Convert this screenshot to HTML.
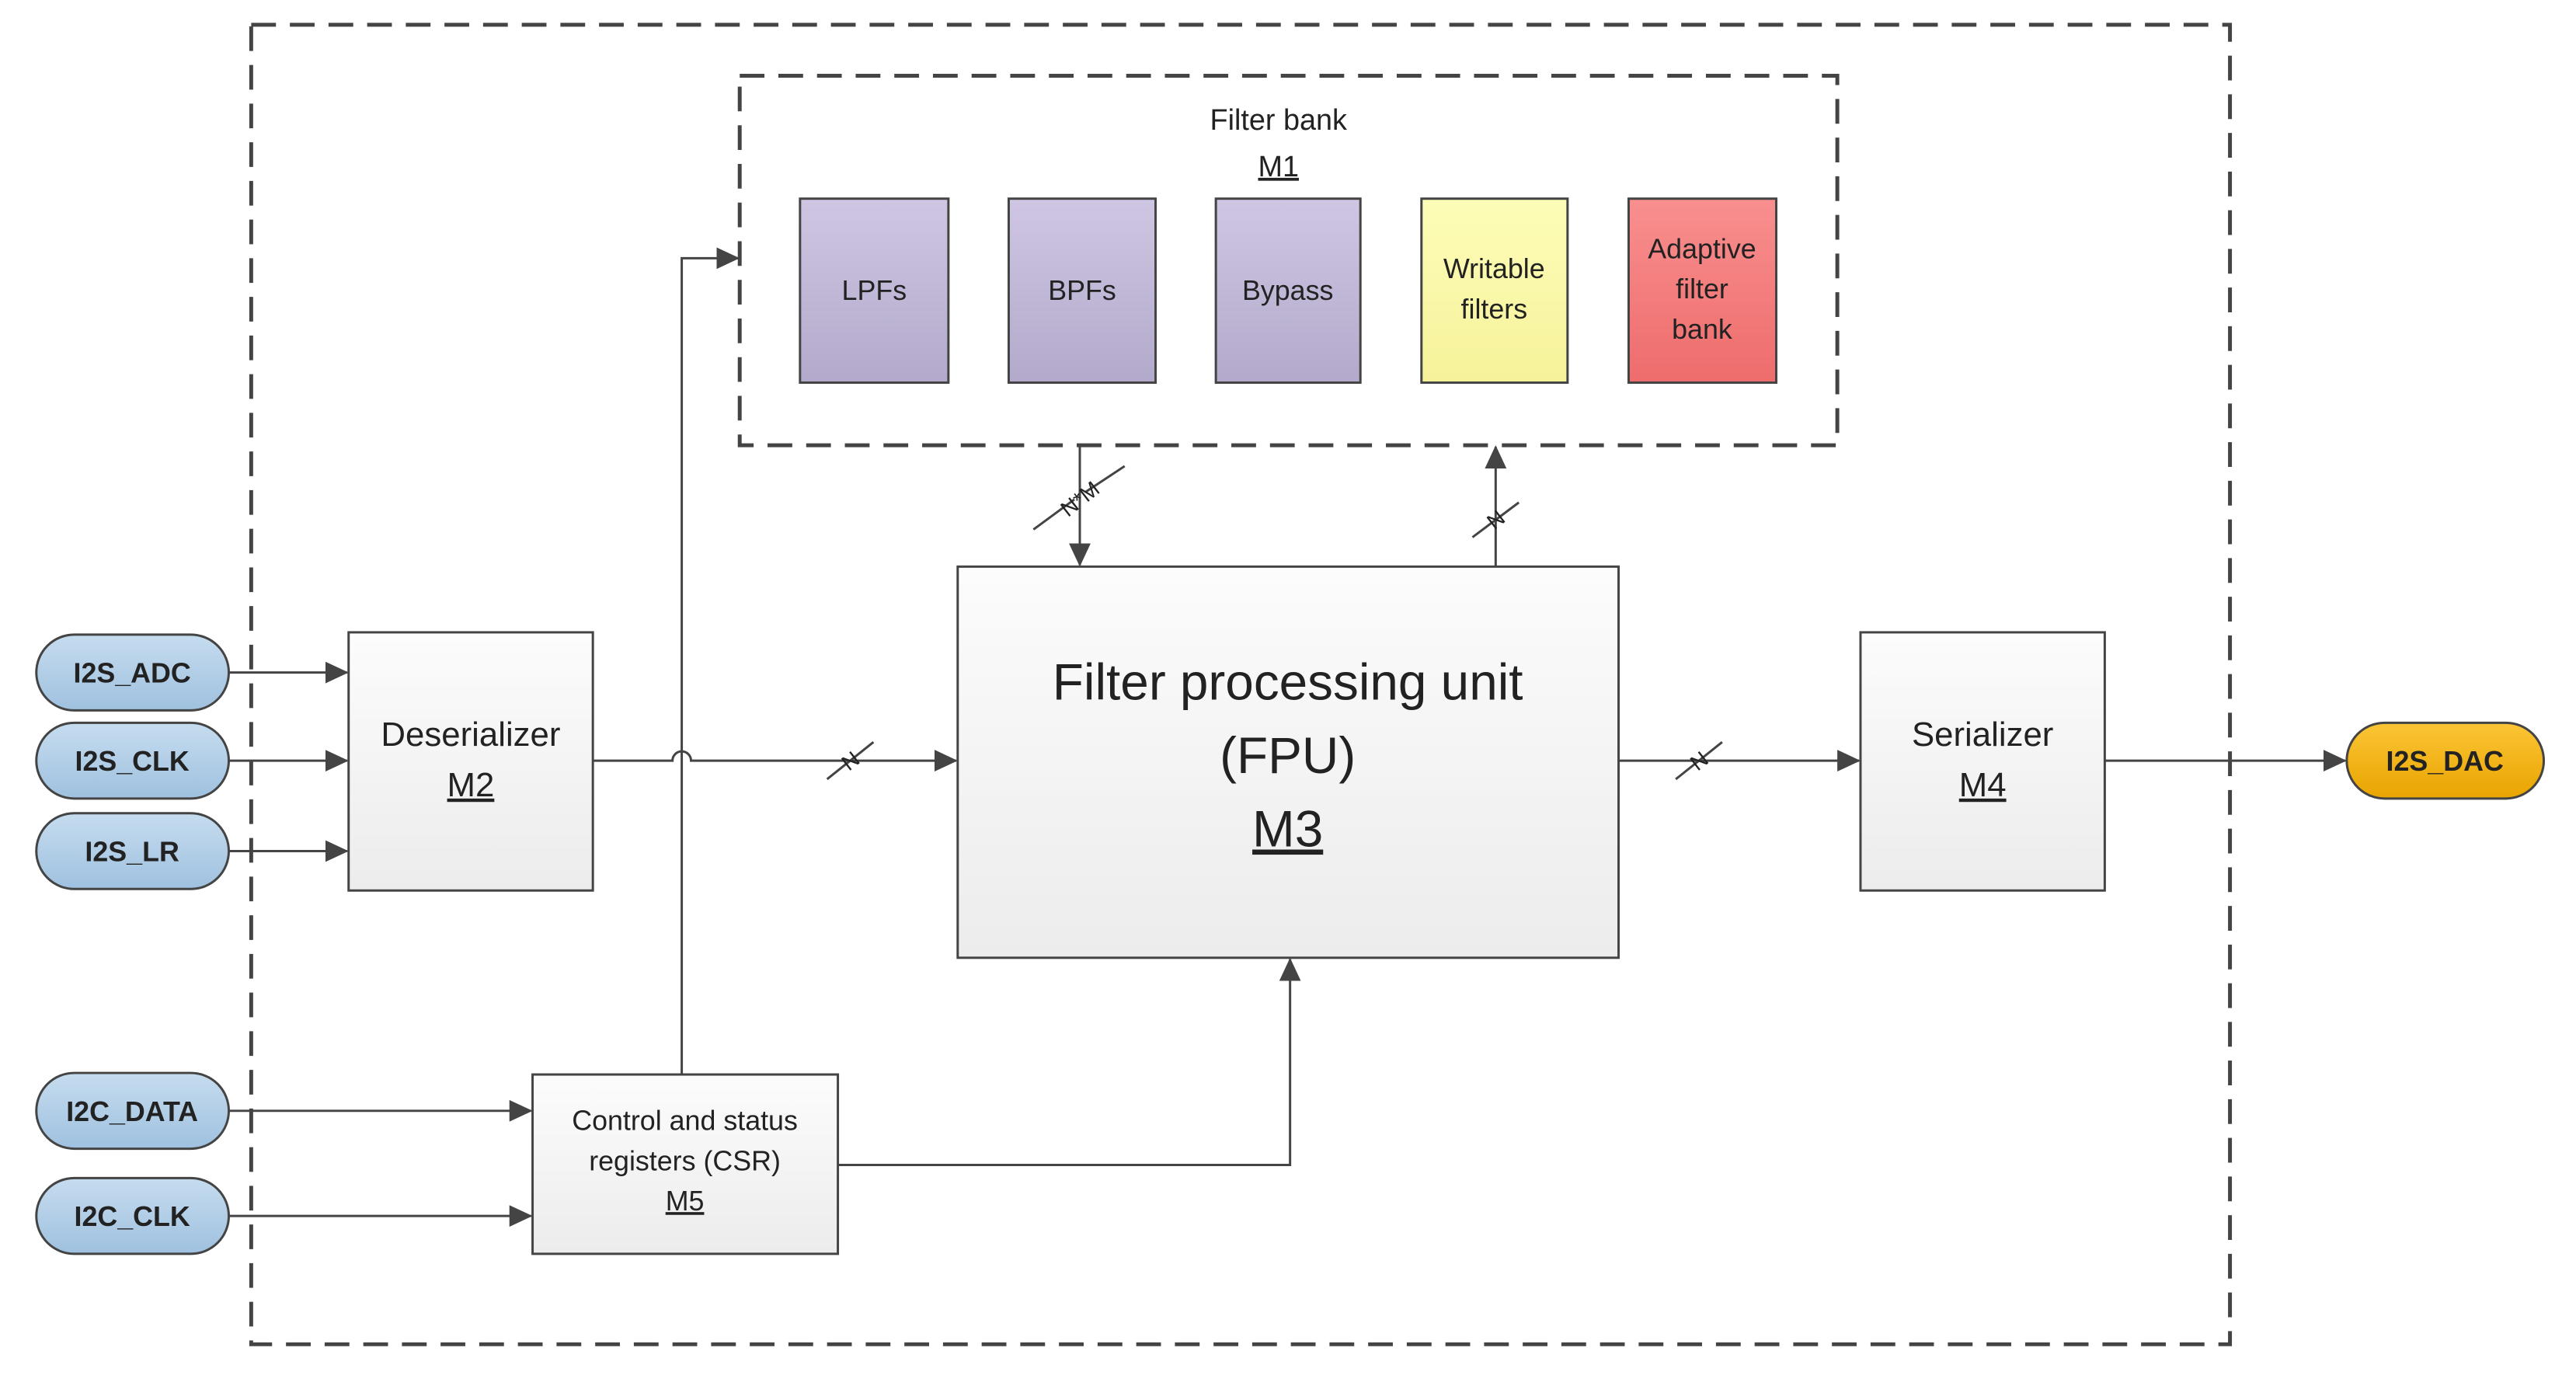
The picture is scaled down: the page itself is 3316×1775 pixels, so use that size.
<!DOCTYPE html>
<html><head><meta charset="utf-8"><style>
html,body{margin:0;padding:0;background:#fff}
svg{display:block}
text{font-family:"Liberation Sans",sans-serif;fill:#222}
</style></head><body>
<svg width="3316" height="1775" viewBox="0 0 3316 1775" xmlns="http://www.w3.org/2000/svg">
<defs>
<linearGradient id="g" x1="0" y1="0" x2="0" y2="1"><stop offset="0" stop-color="#fcfcfc"/><stop offset="1" stop-color="#ececec"/></linearGradient>
<linearGradient id="p" x1="0" y1="0" x2="0" y2="1"><stop offset="0" stop-color="#cfc6e3"/><stop offset="1" stop-color="#b3aacb"/></linearGradient>
<linearGradient id="y" x1="0" y1="0" x2="0" y2="1"><stop offset="0" stop-color="#fdfdb8"/><stop offset="1" stop-color="#f6f29a"/></linearGradient>
<linearGradient id="r" x1="0" y1="0" x2="0" y2="1"><stop offset="0" stop-color="#f98f8f"/><stop offset="1" stop-color="#ee6c6c"/></linearGradient>
<linearGradient id="b" x1="0" y1="0" x2="0" y2="1"><stop offset="0" stop-color="#c6dcef"/><stop offset="1" stop-color="#9fc1df"/></linearGradient>
<linearGradient id="o" x1="0" y1="0" x2="0" y2="1"><stop offset="0" stop-color="#fbc536"/><stop offset="1" stop-color="#e9a400"/></linearGradient>
<marker id="a" markerWidth="30" markerHeight="28" refX="28" refY="14" orient="auto" markerUnits="userSpaceOnUse" viewBox="0 0 30 28"><path d="M0,0 L30,14 L0,28 z" fill="#444"/></marker>
</defs>
<g transform="scale(0.995)">
<g fill="none" stroke="#444" stroke-width="5" stroke-dasharray="32,18">
<rect x="325" y="32" width="2560" height="1707"/>
<rect x="957" y="98" width="1420" height="478"/>
</g>
<text x="1654" y="168" font-size="38" text-anchor="middle">Filter bank</text>
<text x="1654" y="228" font-size="38" text-anchor="middle" text-decoration="underline">M1</text>
<g stroke="#444" stroke-width="3">
<rect x="1035" y="257" width="192" height="238" fill="url(#p)"/>
<rect x="1305" y="257" width="190" height="238" fill="url(#p)"/>
<rect x="1573" y="257" width="187" height="238" fill="url(#p)"/>
<rect x="1839" y="257" width="189" height="238" fill="url(#y)"/>
<rect x="2107" y="257" width="191" height="238" fill="url(#r)"/>
<rect x="1239" y="733" width="855" height="506" fill="url(#g)"/>
<rect x="451" y="818" width="316" height="334" fill="url(#g)"/>
<rect x="2407" y="818" width="316" height="334" fill="url(#g)"/>
<rect x="689" y="1390" width="395" height="232" fill="url(#g)"/>
</g>
<g font-size="36" text-anchor="middle">
<text x="1131" y="388">LPFs</text>
<text x="1400" y="388">BPFs</text>
<text x="1666" y="388">Bypass</text>
<text x="1933" y="360">Writable</text>
<text x="1933" y="412">filters</text>
<text x="2202" y="334">Adaptive</text>
<text x="2202" y="386">filter</text>
<text x="2202" y="438">bank</text>
</g>
<g text-anchor="middle">
<text x="1666" y="905" font-size="66">Filter processing unit</text>
<text x="1666" y="1000" font-size="66">(FPU)</text>
<text x="1666" y="1095" font-size="66" text-decoration="underline">M3</text>
<text x="609" y="965" font-size="44">Deserializer</text>
<text x="609" y="1030" font-size="44" text-decoration="underline">M2</text>
<text x="2565" y="965" font-size="44">Serializer</text>
<text x="2565" y="1030" font-size="44" text-decoration="underline">M4</text>
<text x="886" y="1462" font-size="36">Control and status</text>
<text x="886" y="1514" font-size="36">registers (CSR)</text>
<text x="886" y="1566" font-size="36" text-decoration="underline">M5</text>
</g>
<g stroke="#444" stroke-width="3">
<rect x="47" y="821" width="249" height="98" rx="49" fill="url(#b)"/>
<rect x="47" y="935" width="249" height="98" rx="49" fill="url(#b)"/>
<rect x="47" y="1052" width="249" height="98" rx="49" fill="url(#b)"/>
<rect x="47" y="1388" width="249" height="98" rx="49" fill="url(#b)"/>
<rect x="47" y="1524" width="249" height="98" rx="49" fill="url(#b)"/>
<rect x="3036" y="935" width="255" height="98" rx="49" fill="url(#o)"/>
</g>
<g font-size="36" font-weight="bold" text-anchor="middle">
<text x="171" y="883">I2S_ADC</text>
<text x="171" y="997">I2S_CLK</text>
<text x="171" y="1114">I2S_LR</text>
<text x="171" y="1450">I2C_DATA</text>
<text x="171" y="1586">I2C_CLK</text>
<text x="3163" y="997">I2S_DAC</text>
</g>
<g fill="none" stroke="#444" stroke-width="3" marker-end="url(#a)">
<path d="M296 870 H449"/>
<path d="M296 984 H449"/>
<path d="M296 1101 H449"/>
<path d="M296 1437 H687"/>
<path d="M296 1573 H687"/>
<path d="M767 984 H870 A12 12 0 0 1 894 984 H1237"/>
<path d="M882 1390 V334 H955"/>
<path d="M1397 576 V731"/>
<path d="M1935 733 V578"/>
<path d="M1084 1507 H1669 V1241"/>
<path d="M2094 984 H2405"/>
<path d="M2723 984 H3034"/>
</g>
<g stroke="#444" stroke-width="3" fill="none">
<path d="M1070 1008 L1130 960"/>
<path d="M2168 1008 L2228 960"/>
<path d="M1337 685 L1390 646 M1405 636 L1455 603"/>
<path d="M1905 695 L1965 650"/>
</g>
<g font-size="28" text-anchor="middle">
<text x="1100" y="994" transform="rotate(-38 1100 984)">N</text>
<text x="2198" y="994" transform="rotate(-38 2198 984)">N</text>
<text x="1397" y="655" transform="rotate(-38 1397 645)">N*M</text>
<text x="1935" y="682" transform="rotate(-38 1935 672)">N</text>
</g>
</g>
</svg>
</body></html>
